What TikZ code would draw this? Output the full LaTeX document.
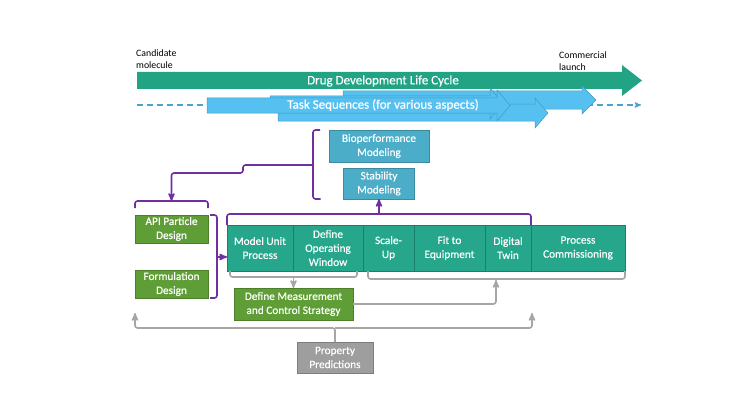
\documentclass[tikz,border=0pt]{standalone}
\usepackage{fontspec}
\setmainfont{Carlito}
\newfontfamily\labelfont{Carlito}[FakeBold=0.3]
\usetikzlibrary{arrows,positioning}

\definecolor{lifeteal}{RGB}{34,163,132}
\definecolor{cellteal}{RGB}{38,167,140}
\definecolor{modelblue}{RGB}{75,173,199}
\definecolor{designgreen}{RGB}{95,158,55}
\definecolor{taskblue}{RGB}{86,192,240}
\definecolor{linkpurple}{RGB}{112,48,160}
\definecolor{linkgray}{RGB}{166,166,166}
\definecolor{predgray}{RGB}{158,158,158}

\begin{document}
\begin{tikzpicture}[x=1pt,y=-1pt,>=stealth',
    box/.style={fill=#1,draw=#1!80!black,text=white,align=center,inner sep=1pt,outer sep=0pt,
                font=\labelfont\fontsize{11.3}{14}\selectfont},
    cell/.style={box=cellteal,draw=cellteal!75!black,minimum height=46pt},
    link/.style={linkpurple,line width=1.6pt,rounded corners=2.5pt},
    grayline/.style={linkgray,line width=1.6pt,rounded corners=2.5pt},
    taskline/.style={taskblue!85!black,line width=1.2pt,dash pattern=on 6pt off 4pt},
    task/.style={fill=taskblue,draw=taskblue!80!black,line width=0.5pt},
    bannertext/.style={text=white,inner sep=0pt,font=\labelfont\fontsize{13}{15}\selectfont},
    note/.style={anchor=west,align=left,inner sep=0pt,font=\fontsize{9.8}{12}\selectfont}]

  \useasboundingbox (0,0) rectangle (750,420);

  % life cycle and task banners
  \draw[taskline,->] (137,105) -- (641,105);
  \fill[lifeteal] (137,72) -- (622,72) -- (622,65) -- (642,80.5) -- (622,96) -- (622,89) -- (137,89) -- cycle;
  \filldraw[task] (343,91)  -- (582,91)  -- (582,86) -- (596,100)   -- (582,114) -- (582,109) -- (343,109) -- cycle;
  \filldraw[task] (278,104) -- (535,104) -- (535,98) -- (548,113)   -- (535,128) -- (535,121) -- (278,121) -- cycle;
  \filldraw[task] (270,96)  -- (490,96)  -- (490,88) -- (503,103.5) -- (490,119) -- (490,111) -- (270,111) -- cycle;
  \filldraw[task] (207,98)  -- (497,98)  -- (497,90) -- (510,105.5) -- (497,121) -- (497,113) -- (207,113) -- cycle;

  \node[bannertext] (life)   at (383,81)  {Drug Development Life Cycle};
  \node[bannertext] (tasks)  at (383,105) {Task Sequences (for various aspects)};
  \node[note]       (cand)   at (136,59)  {Candidate\\molecule};
  \node[note]       (launch) at (559,61)  {Commercial\\launch};

  % boxes
  \node[box=modelblue,minimum width=100pt,minimum height=32pt] (bio) at (379,146) {Bioperformance\\Modeling};
  \node[box=modelblue,minimum width=71pt,minimum height=31pt,below=6pt of bio] (stab) {Stability\\Modeling};
  \node[box=designgreen,minimum width=73pt,minimum height=28pt] (api) at (171.5,229) {API Particle\\Design};
  \node[box=designgreen,minimum width=73pt,minimum height=28pt,below=27pt of api] (form) {Formulation\\Design};

  \node[cell,minimum width=66pt,anchor=west]        (unit)       at (227,248) {Model Unit\\Process};
  \node[cell,minimum width=70pt,right=0pt of unit]   (window)     {Define\\Operating\\Window};
  \node[cell,minimum width=51pt,right=0pt of window] (scale)      {Scale-\\Up};
  \node[cell,minimum width=71pt,right=0pt of scale]  (fit)        {Fit to\\Equipment};
  \node[cell,minimum width=46pt,right=0pt of fit]    (twin)       {Digital\\Twin};
  \node[cell,minimum width=94pt,right=0pt of twin]   (commission) {Process\\Commissioning};

  \node[box=designgreen,minimum width=119pt,minimum height=32pt] (measure) at (293.5,304) {Define Measurement\\and Control Strategy};
  \node[box=predgray,minimum width=76pt,minimum height=31pt]     (predict) at (335,357.5) {Property\\Predictions};

  % purple brackets
  \coordinate (modtick)   at (313,165);
  \coordinate (apitick)   at ([yshift=14pt]api.north);
  \coordinate (greentick) at (217,257);
  \coordinate (rowtick)   at ([yshift=11pt]stab.south |- unit.north);

  \draw[link] ([xshift=-9pt]bio.north west) -- ++(-7,0) |- ([xshift=-23pt]stab.south west);
  \draw[link] ([yshift=7pt]api.north west) -- ++(0,-7) -| ([yshift=7pt]api.north east);
  \draw[link] ([xshift=2pt]api.north east) -- ++(7,0) |- ([xshift=2pt]form.south east);
  \draw[link] (unit.north west) -- ++(0,-11) -| (twin.north east);

  \draw[link,->] (modtick) -| ++(-70,8) -| (apitick);
  \draw[link,->] (greentick) -- (greentick -| unit.west);
  \draw[link,->] (rowtick) -- (stab.south);

  % gray brackets
  \coordinate (graytick) at ([yshift=-6pt]measure.north |- unit.south);
  \coordinate (twintick) at (496,280);
  \coordinate (apiup)    at (135,313);
  \coordinate (commup)   at (532,313);

  \draw[grayline] ([xshift=3pt]unit.south west) -- ++(0,6) -| ([xshift=-6pt]window.south east);
  \draw[grayline] ([xshift=5pt]scale.south west) -- ++(0,8) -| (commission.south east);

  \draw[grayline,->] (graytick) -- (measure.north);
  \draw[grayline,->] (measure.east) -| (twintick);
  \draw[grayline,->] (predict.north) -- ++(0,-14) -| (apiup);
  \draw[grayline,->] (predict.north) ++(0,-14) -| (commup);
\end{tikzpicture}
\end{document}
